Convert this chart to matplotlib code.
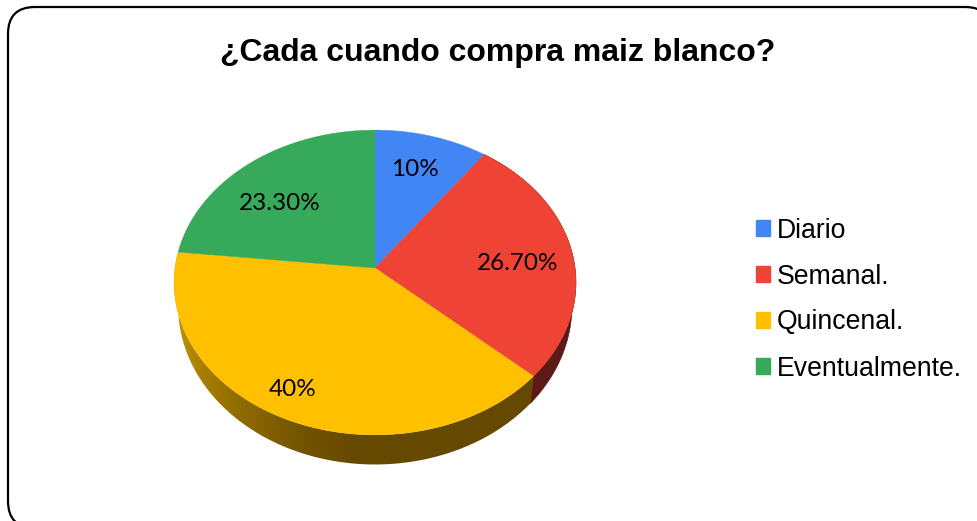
import numpy as np
import matplotlib
matplotlib.use('Agg')
import matplotlib.pyplot as plt
from matplotlib.patches import FancyBboxPatch, Patch, Polygon

title = '¿Cada cuando compra maiz blanco?'
categories = ['Diario', 'Semanal.', 'Quincenal.', 'Eventualmente.']
values = [10, 26.7, 40, 23.3]
value_labels = ['10%', '26.70%', '40%', '23.30%']
colors = ['#4285f4', '#ee4335', '#ffc000', '#36a95a']
side_red = '#5c1a16'

# shading of the yellow side, dark towards the middle
shade_x = [178, 200, 240, 300, 350, 540]
shade_c = [(0.74, 0.57, 0.02), (0.66, 0.50, 0.01), (0.56, 0.42, 0.0),
           (0.45, 0.33, 0.0), (0.40, 0.29, 0.0), (0.40, 0.29, 0.0)]

# perspective pie, in pixels
cx, cy = 375, 268
rx, ry = 200, 151
persp = 0.095
low_cy = 291
low_rx, low_ry = 196, 157


def rim(theta, cy0=cy, rx0=rx, ry0=ry):
    u, v = np.sin(theta), np.cos(theta)
    w = 1 + persp * v
    return cx + rx0 * u / w, cy0 - ry0 * v / w


fig = plt.figure(figsize=(9.77, 5.21), dpi=100)
ax = fig.add_axes([0, 0, 1, 1])

ax.add_patch(FancyBboxPatch((8, 7), 984, 521, boxstyle='round,pad=0,rounding_size=27',
                            fc='white', ec='black', lw=1.6, zorder=1))

edges = np.cumsum([0] + values) / sum(values) * 2 * np.pi

# side wall: red piece then the yellow gradient
th = np.linspace(edges[1], edges[2], 60)
x1, y1 = rim(th)
x2, y2 = rim(th, low_cy, low_rx, low_ry)
ax.fill(np.r_[x1, x2[::-1]], np.r_[y1, y2[::-1]], color=side_red, lw=0.5, zorder=2)

th = np.linspace(edges[2], edges[3], 160)
x1, y1 = rim(th)
x2, y2 = rim(th, low_cy, low_rx, low_ry)
shade_c = np.array(shade_c)
grad_x = np.arange(170, 545)
grad = np.stack([np.interp(grad_x, shade_x, shade_c[:, k]) for k in range(3)], axis=1)[None, :, :]
side = Polygon(np.c_[np.r_[x1, x2[::-1]], np.r_[y1, y2[::-1]]], closed=True, fc='none', ec='none')
ax.add_patch(side)
im = ax.imshow(grad, extent=(170, 545, 470, 240), aspect='auto', interpolation='bilinear', zorder=2)
im.set_clip_path(side)

# top surface
for i in range(len(values)):
    th = np.linspace(edges[i], edges[i + 1], 120)
    x, y = rim(th)
    ax.fill(np.r_[cx, x], np.r_[cy, y], color=colors[i], lw=0.3, zorder=3)

label_xy = [(415, 170), (518, 263), (293, 390), (280, 204)]
for txt, (lx, ly) in zip(value_labels, label_xy):
    ax.text(lx, ly, txt, family='Lato', fontsize=17.5, color='black', ha='center', va='center', zorder=4)

ax.text(498, 53, title, family='Liberation Sans', fontweight='bold', fontsize=23,
        color='black', ha='center', va='center')

handles = [Patch(color=c) for c in colors]
ax.set_xlim(0, 977)
ax.set_ylim(521, 0)
ax.axis('off')
ax.legend(handles, categories, loc='center left', bbox_to_anchor=(756, 299.5),
          bbox_transform=ax.transData, frameon=False, borderpad=0, borderaxespad=0,
          prop={'family': 'Liberation Sans', 'size': 19.2}, handlelength=0.52,
          handleheight=0.52, handletextpad=0.26, labelspacing=0.75)

plt.savefig('out.png', dpi=100)
